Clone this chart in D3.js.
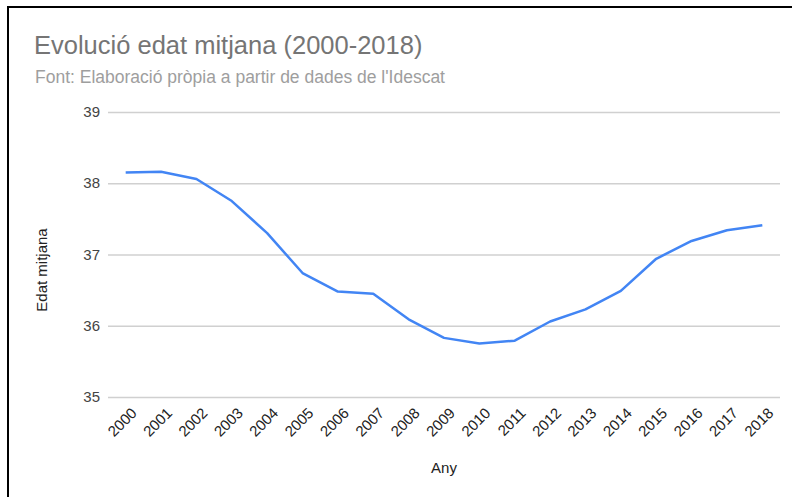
<!DOCTYPE html>
<html>
<head>
<meta charset="utf-8">
<script src="https://cdn.jsdelivr.net/npm/d3@7"></script>
<style>
  body { margin: 0; background: #fff; }
  svg { display: block; font-family: Arial, "Liberation Sans", sans-serif; }
</style>
</head>
<body>
<svg id="chart" width="792" height="497"></svg>
<script>
// dades
var years = ["2000","2001","2002","2003","2004","2005","2006","2007","2008","2009",
             "2010","2011","2012","2013","2014","2015","2016","2017","2018"];
var edatMitjana = [38.15, 38.16, 38.06, 37.75, 37.30, 36.74, 36.48, 36.45, 36.09, 35.83,
                   35.75, 35.79, 36.06, 36.23, 36.49, 36.94, 37.19, 37.34, 37.41];
var yTicks = [35, 36, 37, 38, 39];

var svg = d3.select("#chart");

var plotLeft = 108, plotRight = 780, plotTop = 112, plotBottom = 397;

var x = d3.scaleBand().domain(years).range([plotLeft, plotRight]).padding(0);
var y = d3.scaleLinear().domain([35, 39]).range([plotBottom, plotTop]);

// marc (només dalt i esquerra)
svg.append("line").attr("x1", 7).attr("y1", 7).attr("x2", 792).attr("y2", 7)
    .attr("stroke", "#000").attr("stroke-width", 2);
svg.append("line").attr("x1", 8).attr("y1", 6).attr("x2", 8).attr("y2", 497)
    .attr("stroke", "#000").attr("stroke-width", 2);

// títol
svg.append("text").attr("x", 34).attr("y", 54)
    .attr("font-size", 25.5).attr("fill", "#757575")
    .text("Evolució edat mitjana (2000-2018)");
svg.append("text").attr("x", 35).attr("y", 83)
    .attr("font-size", 17.5).attr("fill", "#9e9e9e")
    .text("Font: Elaboració pròpia a partir de dades de l'Idescat");

// línies de graella
svg.append("g").selectAll("line").data(yTicks).enter().append("line")
    .attr("x1", plotLeft).attr("x2", plotRight)
    .attr("y1", function(d) { return y(d) + 0.5; })
    .attr("y2", function(d) { return y(d) + 0.5; })
    .attr("stroke", "#d0d0d0").attr("stroke-width", 1.5);

// eix Y
svg.append("g").selectAll("text").data(yTicks).enter().append("text")
    .attr("x", 100).attr("y", function(d) { return y(d) + 5; })
    .attr("text-anchor", "end").attr("font-size", 15).attr("fill", "#444")
    .text(function(d) { return d; });

// eix X (etiquetes girades)
svg.append("g").selectAll("text").data(years).enter().append("text")
    .attr("transform", function(d) {
        return "translate(" + (x(d) + x.bandwidth() / 2 + 12) + ",414) rotate(-45)";
    })
    .attr("text-anchor", "end").attr("font-size", 15).attr("fill", "#222")
    .text(function(d) { return d; });

// títols d'eixos
svg.append("text").attr("x", (plotLeft + plotRight) / 2).attr("y", 473)
    .attr("text-anchor", "middle").attr("font-size", 15).attr("fill", "#222")
    .text("Any");
svg.append("text").attr("transform", "translate(47,270) rotate(-90)")
    .attr("text-anchor", "middle").attr("font-size", 15).attr("fill", "#222")
    .text("Edat mitjana");

// sèrie
var line = d3.line()
    .x(function(d, i) { return x(years[i]) + x.bandwidth() / 2; })
    .y(function(d) { return y(d); });

svg.append("path").datum(edatMitjana)
    .attr("d", line)
    .attr("fill", "none")
    .attr("stroke", "#4285f4")
    .attr("stroke-width", 2.5)
    .attr("stroke-linejoin", "round");
</script>
</body>
</html>
